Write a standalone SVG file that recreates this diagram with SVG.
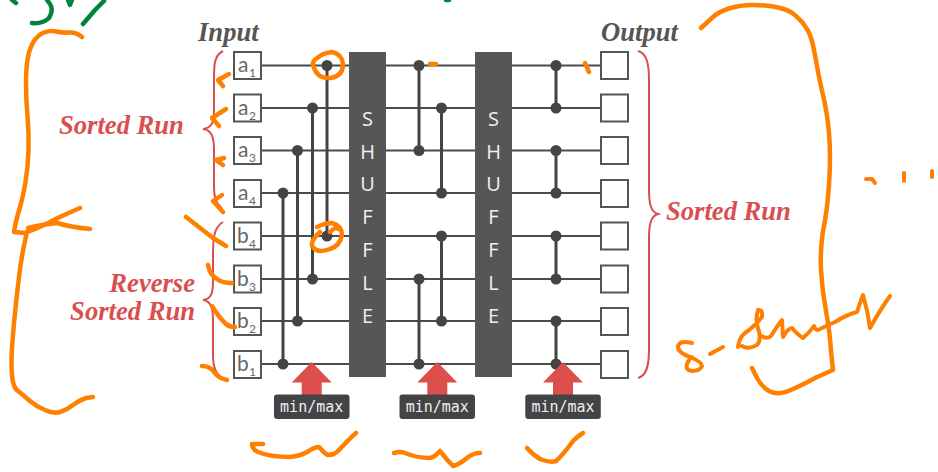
<svg xmlns="http://www.w3.org/2000/svg" width="938" height="472" viewBox="0 0 938 472">
<defs>
<style>
.wire{stroke:#4b4b48;stroke-width:2;fill:none}
.bar{stroke:#444441;stroke-width:3;fill:none}
.dot{fill:#444441}
.box{fill:#fff;stroke:#555553;stroke-width:2}
.shuf{fill:#565656}
.sl{font:400 20px "Open Sans",sans-serif;fill:#f0f0f0;text-anchor:middle}
.lab{font:400 21px "Lato",sans-serif;fill:#666}
.sub{font:400 12px "Lato",sans-serif;fill:#666}
.head{font:italic 700 26.600px "Liberation Serif",serif;fill:#555}
.red{font:italic 700 26.600px "Liberation Serif",serif;fill:#d94f50}
.brace{stroke:#d94f50;stroke-width:2;fill:none}
.arrow{fill:#dd4f4d}
.tag{fill:#444446}
.tagt{font:400 15px "DejaVu Sans Mono",monospace;fill:#eee;text-anchor:middle}
.ink{stroke:#ff8000;stroke-width:4.500;fill:none;stroke-linecap:round;stroke-linejoin:round}
.green{stroke:#00843d;stroke-width:4.500;fill:none;stroke-linecap:round;stroke-linejoin:round}
</style>
</defs>
<g id="connectors">
<path class="wire" d="M261 65.500H600M261 108H600M261 150.500H600M261 193H600M261 236H600M261 279H600M261 321H600M261 364H600"/>
<path class="bar" d="M283 193V364M297.500 150.500V321M312.500 108V279M327 65.500V236M419 65.500V150.500M441.500 108V193M441.500 236V321M419 279V364M556 65.500V108M556 150.500V193M556 236V279M556 321V364"/>
<g class="dot">
<circle cx="283" cy="193" r="5.500"/><circle cx="283" cy="364" r="5.500"/>
<circle cx="297.500" cy="150.500" r="5.500"/><circle cx="297.500" cy="321" r="5.500"/>
<circle cx="312.500" cy="108" r="5.500"/><circle cx="312.500" cy="279" r="5.500"/>
<circle cx="327" cy="65.500" r="5.500"/><circle cx="327" cy="236" r="5.500"/>
<circle cx="419" cy="65.500" r="5.500"/><circle cx="419" cy="150.500" r="5.500"/>
<circle cx="441.500" cy="108" r="5.500"/><circle cx="441.500" cy="193" r="5.500"/>
<circle cx="441.500" cy="236" r="5.500"/><circle cx="441.500" cy="321" r="5.500"/>
<circle cx="419" cy="279" r="5.500"/><circle cx="419" cy="364" r="5.500"/>
<circle cx="556" cy="65.500" r="5.500"/><circle cx="556" cy="108" r="5.500"/>
<circle cx="556" cy="150.500" r="5.500"/><circle cx="556" cy="193" r="5.500"/>
<circle cx="556" cy="236" r="5.500"/><circle cx="556" cy="279" r="5.500"/>
<circle cx="556" cy="321" r="5.500"/><circle cx="556" cy="364" r="5.500"/>
</g>
</g>
<g id="input-a1"><rect class="box" x="234" y="52" width="27" height="27"/><text class="lab" x="238" y="72">a</text><text class="sub" x="249" y="77">1</text></g>
<g id="input-a2"><rect class="box" x="234" y="94.500" width="27" height="27"/><text class="lab" x="238" y="114.500">a</text><text class="sub" x="249" y="119.500">2</text></g>
<g id="input-a3"><rect class="box" x="234" y="137" width="27" height="27"/><text class="lab" x="238" y="157">a</text><text class="sub" x="249" y="162">3</text></g>
<g id="input-a4"><rect class="box" x="234" y="180" width="27" height="27"/><text class="lab" x="238" y="200">a</text><text class="sub" x="249" y="205">4</text></g>
<g id="input-b4"><rect class="box" x="234" y="222.500" width="27" height="27"/><text class="lab" x="237" y="242.500">b</text><text class="sub" x="249" y="247.500">4</text></g>
<g id="input-b3"><rect class="box" x="234" y="265.500" width="27" height="27"/><text class="lab" x="237" y="285.500">b</text><text class="sub" x="249" y="290.500">3</text></g>
<g id="input-b2"><rect class="box" x="234" y="308" width="27" height="27"/><text class="lab" x="237" y="328">b</text><text class="sub" x="249" y="333">2</text></g>
<g id="input-b1"><rect class="box" x="234" y="351" width="27" height="27"/><text class="lab" x="237" y="371">b</text><text class="sub" x="249" y="376">1</text></g>
<g id="output-1"><rect class="box" x="601" y="52" width="27" height="27"/></g>
<g id="output-2"><rect class="box" x="601" y="94.500" width="27" height="27"/></g>
<g id="output-3"><rect class="box" x="601" y="137" width="27" height="27"/></g>
<g id="output-4"><rect class="box" x="601" y="180" width="27" height="27"/></g>
<g id="output-5"><rect class="box" x="601" y="222.500" width="27" height="27"/></g>
<g id="output-6"><rect class="box" x="601" y="265.500" width="27" height="27"/></g>
<g id="output-7"><rect class="box" x="601" y="308" width="27" height="27"/></g>
<g id="output-8"><rect class="box" x="601" y="351" width="27" height="27"/></g>
<g id="shuffle-1"><rect class="shuf" x="349" y="52" width="37" height="325"/>
<text class="sl" x="367.500" y="126">S</text><text class="sl" x="367.500" y="159">H</text><text class="sl" x="367.500" y="191">U</text><text class="sl" x="367.500" y="224">F</text><text class="sl" x="367.500" y="257">F</text><text class="sl" x="367.500" y="290">L</text><text class="sl" x="367.500" y="323">E</text></g>
<g id="shuffle-2"><rect class="shuf" x="475" y="52" width="37" height="325"/>
<text class="sl" x="493.500" y="126">S</text><text class="sl" x="493.500" y="159">H</text><text class="sl" x="493.500" y="191">U</text><text class="sl" x="493.500" y="224">F</text><text class="sl" x="493.500" y="257">F</text><text class="sl" x="493.500" y="290">L</text><text class="sl" x="493.500" y="323">E</text></g>
<g id="minmax-1"><path class="arrow" d="M311.700 362L331.700 382.500H321.700V396H301.700V382.500H291.700Z"/><rect class="tag" x="274" y="394.500" width="75.500" height="24.500" rx="3"/><text class="tagt" x="311.700" y="412">min/max</text></g>
<g id="minmax-2"><path class="arrow" d="M437.300 362L457.300 382.500H447.300V396H427.300V382.500H417.300Z"/><rect class="tag" x="399.500" y="394.500" width="75.500" height="24.500" rx="3"/><text class="tagt" x="437.300" y="412">min/max</text></g>
<g id="minmax-3"><path class="arrow" d="M563 362L583 382.500H573V396H553V382.500H543Z"/><rect class="tag" x="525.300" y="394.500" width="75.500" height="24.500" rx="3"/><text class="tagt" x="563" y="412">min/max</text></g>
<g id="labels">
<text class="head" x="198" y="41">Input</text>
<text class="head" x="601" y="41">Output</text>
<text class="red" x="59" y="134">Sorted Run</text>
<text class="red" x="195" y="292" text-anchor="end">Reverse</text>
<text class="red" x="195" y="320" text-anchor="end">Sorted Run</text>
<text class="red" x="666" y="220">Sorted Run</text>
<path class="brace" d="M223 51C213 56 214 68 214 85V110C214 122 212 128 203 129C212 130 214 138 214 150V185C214 198 216 204 222 208"/>
<path class="brace" d="M223 222C214 227 213 238 213 255V280C213 292 212 299 203 300C211 301 213 308 213 320V355C213 368 216 375 225 380"/>
<path class="brace" d="M638 51C646 53 649 62 649 80V190C649 204 651 212 658 214C651 216 649 224 649 238V350C649 367 646 376 638 378"/>
</g>
<g id="annotations">
<path class="ink" d="M82 37Q76 32 69.500 32.500Q63 33 56.500 31.500Q50 30 44 32.500Q38 35 34 41Q30 47 28 57Q26 67 26 83Q26 100 27.500 116Q29 133 28.500 150Q28 167 25.500 182Q23 197 20 207Q17 217 15 226L14 232L25 233"/>
<path class="ink" d="M90 229Q70 227 57 223Q40 225 28 228"/>
<path class="ink" d="M80 208Q57 218 48 223Q36 229 27 232Q22 253 19.500 273Q17 293 15 313Q13 333 12 348Q11 363 12 375Q13 388 18 391Q23 395 30 401Q37 407 45 410Q53 414 60 412Q67 410 73 405Q80 400 86 398L93 397"/>
<path class="ink" d="M701 28L713 17Q718 12 729 8.500Q740 5 753 5Q767 5 778 7.500Q790 10 796 16Q803 22 807 29Q812 37 815 55Q818 73 822 91Q827 110 829 133Q831 157 829 185Q827 213 823 231Q820 250 821 270Q822 290 826 311Q830 333 831 351L833 370L817 377Q793 390 785 392Q777 395 769 391Q762 387 757 378L752 368"/>
<path class="ink" style="stroke-width:4" d="M866 179L872 179L875 183M904 173L904 181M932 171L932 177"/>
<path class="ink" style="stroke-width:4" d="M692 343Q680 340 678 346Q677 352 690 357Q702 362 702 366Q700 371 692 371Q685 370 687 364Q689 359 692 357M710 354L723 347"/>
<path class="ink" style="stroke-width:4" d="M738 347Q739 338 745 333Q755 326 762 317Q763 309 758 310Q755 320 758 328Q762 340 757 345Q748 350 742 346M760 335Q766 340 771 336Q778 325 782 320L783 337Q788 328 792 328Q798 335 803 338Q810 332 814 326Q816 332 820 329Q828 325 835 322Q848 314 857 312Q860 303 863 295Q868 312 870 328Q880 310 890 296"/>
<path class="ink" d="M229 74L218 80L223 86M226 109L212 118L219 126M224 158L216 160L223 165M222 195L213 201L223 212"/>
<path class="ink" d="M186 217L213 238L226 246M208 265Q210 275 217 279Q222 283 232 283M212 306Q218 316 224 322Q228 327 235 327M202 366Q210 366 214 372Q218 378 227 380"/>
<path class="ink" d="M316 59Q322 53 332 52Q342 54 343 64Q343 76 331 78Q318 79 314 68Q311 62 316 59"/>
<path class="ink" d="M317 227Q325 223 332 223Q342 226 342 235Q340 246 330 249Q317 254 312 246Q311 240 320 232M330 232Q336 226 338 229"/>
<path class="ink" d="M430 64H436M585 63L589 72"/>
<path class="ink" d="M263 444L252 444Q252 449 258 452Q270 457 290 457Q300 456 307 452Q315 447 319 447Q325 454 328 455Q335 455 340 449Q350 438 356 433"/>
<path class="ink" d="M394 453Q400 451 405 453Q417 458 430 458Q435 457 440 451Q447 460 453 466Q460 464 467 458Q473 453 480 453"/>
<path class="ink" d="M527 448Q532 454 540 459Q550 463 556 461Q563 455 573 441Q578 436 583 433"/>
<path class="green" d="M32 23Q43 24 49 18Q54 10 50 4L47 0M68 0L70 5L72 0M83 24L95 10L104 1M12 0L16 3M446 0H449"/>
</g>
</svg>
